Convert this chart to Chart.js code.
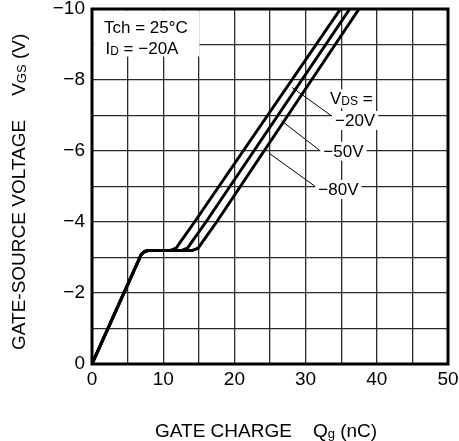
<!DOCTYPE html>
<html>
<head>
<meta charset="utf-8">
<script src="https://cdn.jsdelivr.net/npm/chart.js@4.4.1/dist/chart.umd.min.js"></script>
<style>
  html, body { margin: 0; padding: 0; background: #fff; }
  canvas { display: block; }
</style>
</head>
<body>
<canvas id="qgChart" width="459" height="441"></canvas>
<script>
  // Gate charge data (Qg in nC, VGS in V)
  const qgCommon = [0, 6.9, 7.4, 8.0];
  const vgsCommon = [0, -3.08, -3.17, -3.2];
  const vgsRise = [-3.2, -3.26, -3.43, -4, -10];
  const qg20 = [11.0, 11.8, 12.4, 14.4, 34.9];
  const qg50 = [12.6, 13.4, 14.0, 16.0, 36.2];
  const qg80 = [14.1, 14.9, 15.5, 17.5, 37.5];
  const vdsLabels = ['\u221220V', '\u221250V', '\u221280V'];
  const xTicks = [0, 10, 20, 30, 40, 50];
  const yTicks = [0, -2, -4, -6, -8, -10];

  const FONT = '"Liberation Sans", Arial, sans-serif';

  function curve(qgRise) {
    const pts = qgCommon.map((q, i) => ({ x: q, y: vgsCommon[i] }));
    qgRise.forEach((q, i) => pts.push({ x: q, y: vgsRise[i] }));
    return pts;
  }

  function fmtV(v) {
    v = Math.round(v);
    return v === 0 ? '0' : '\u2212' + Math.abs(v);
  }

  // draws text made of [text, size, dy] parts, returns end x
  function rich(ctx, parts, x, y, draw) {
    parts.forEach(p => {
      ctx.font = p[1] + 'px ' + FONT;
      if (draw !== false) ctx.fillText(p[0], x, y + (p[2] || 0));
      x += ctx.measureText(p[0]).width;
    });
    return x;
  }

  const decor = {
    id: 'decor',
    beforeDatasetsDraw(chart) {
      const ctx = chart.ctx;
      const xs = chart.scales.x, ys = chart.scales.y;
      ctx.save();
      ctx.fillStyle = '#fff';
      ctx.fillRect(93.5, 10.5, 106, 46);
      ctx.fillStyle = '#000';
      ctx.textBaseline = 'alphabetic';
      ctx.textAlign = 'left';
      rich(ctx, [['Tch = 25\u00b0C', 17]], 104, 32.5);
      rich(ctx, [['I', 17], ['D', 12, 1], [' = \u221220A', 17]], 105.5, 53.5);

      // VDS labels with leaders
      const lines = [
        { parts: [['V', 17], ['DS', 12, 1], [' =', 17]], x: 330, y: 104.3 },
        { parts: [[vdsLabels[0], 17]], x: 335, y: 126 },
        { parts: [[vdsLabels[1], 17]], x: 323.3, y: 156.7 },
        { parts: [[vdsLabels[2], 17]], x: 318.3, y: 195 }
      ];
      lines.forEach(l => {
        const w = rich(ctx, l.parts, l.x, l.y, false) - l.x;
        ctx.fillStyle = '#fff';
        ctx.fillRect(l.x - 3, l.y - 15, w + 6, 19);
      });
      ctx.fillStyle = '#000';
      lines.forEach(l => rich(ctx, l.parts, l.x, l.y));

      const leaders = [
        [28.1, -7.79, 33.5, -7.01],
        [26.6, -6.85, 31.9, -6.03],
        [25.0, -5.92, 31.3, -5.01]
      ];
      ctx.strokeStyle = '#000';
      ctx.lineWidth = 1;
      leaders.forEach(l => {
        ctx.beginPath();
        ctx.moveTo(xs.getPixelForValue(l[0]), ys.getPixelForValue(l[1]));
        ctx.lineTo(xs.getPixelForValue(l[2]), ys.getPixelForValue(l[3]));
        ctx.stroke();
      });
      ctx.restore();
    },
    afterDraw(chart) {
      const ctx = chart.ctx;
      const a = chart.chartArea;
      ctx.save();
      ctx.strokeStyle = '#000';
      ctx.lineWidth = 3;
      ctx.strokeRect(a.left, a.top, a.right - a.left, a.bottom - a.top);

      ctx.fillStyle = '#000';
      ctx.textAlign = 'left';
      ctx.textBaseline = 'alphabetic';
      // x title
      let x = rich(ctx, [['GATE CHARGE', 19]], 155, 436.5);
      rich(ctx, [['Q', 19], ['g', 13, 1], [' (nC)', 19]], x + 21, 436.5);
      // y title
      ctx.translate(24.5, 350);
      ctx.rotate(-Math.PI / 2);
      x = rich(ctx, [['GATE-SOURCE VOLTAGE', 19]], 0, 0);
      rich(ctx, [['V', 19], ['GS', 13, 1], [' (V)', 19]], x + 24, 0);
      ctx.restore();
    }
  };

  const tickFont = { family: FONT, size: 19, lineHeight: 1 };
  const gridStyle = { color: '#2a2a2a', lineWidth: 1.3, drawTicks: false };

  new Chart(document.getElementById('qgChart'), {
    type: 'line',
    data: {
      datasets: [
        { label: vdsLabels[0], data: curve(qg20) },
        { label: vdsLabels[1], data: curve(qg50) },
        { label: vdsLabels[2], data: curve(qg80) }
      ].map(d => Object.assign(d, {
        borderColor: '#000',
        borderWidth: 3,
        pointRadius: 0,
        tension: 0,
        fill: false
      }))
    },
    options: {
      responsive: false,
      animation: false,
      devicePixelRatio: 1,
      layout: { padding: { top: 9, right: 11, left: 0, bottom: 0 } },
      plugins: { legend: { display: false }, tooltip: { enabled: false } },
      scales: {
        x: {
          type: 'linear', min: 0, max: 50,
          grid: gridStyle,
          border: { display: false },
          ticks: {
            stepSize: 5, autoSkip: false, maxRotation: 0, padding: 6,
            color: '#000', font: tickFont,
            callback: v => xTicks.includes(v) ? String(v) : ''
          },
          afterFit: s => { s.height = 77; s.paddingLeft = 0; s.paddingRight = 0; }
        },
        y: {
          type: 'linear', min: -10, max: 0, reverse: true,
          grid: gridStyle,
          border: { display: false },
          ticks: {
            stepSize: 1, autoSkip: false, padding: 7,
            color: '#000', font: tickFont,
            callback: v => yTicks.includes(Math.round(v)) ? fmtV(v) : ''
          },
          afterFit: s => { s.width = 92; s.paddingTop = 0; s.paddingBottom = 0; }
        }
      }
    },
    plugins: [decor]
  });
</script>
</body>
</html>
